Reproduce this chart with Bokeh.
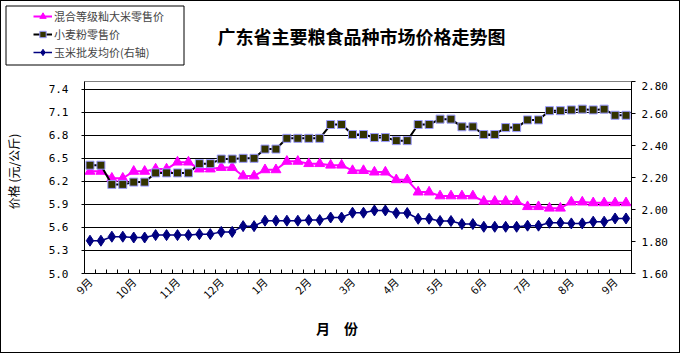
from math import pi
from bokeh.plotting import figure
from bokeh.layouts import column
from bokeh.models import (Range1d, LinearAxis, FixedTicker, PrintfTickFormatter,
                          Legend, LegendItem, Label, BoxAnnotation, ColumnDataSource)
from bokeh.embed import file_html
from bokeh.resources import INLINE

title_text = "广东省主要粮食品种市场价格走势图"
series_names = ["混合等级籼大米零售价", "小麦粉零售价", "玉米批发均价(右轴)"]
month_labels = ["9月", "10月", "11月", "12月", "1月", "2月", "3月", "4月",
                "5月", "6月", "7月", "8月", "9月"]
points_per_month = 4
left_ticks = [5.0, 5.3, 5.6, 5.9, 6.2, 6.5, 6.8, 7.1, 7.4]
right_ticks = [1.6, 1.8, 2.0, 2.2, 2.4, 2.6, 2.8]
y_title = "价格 (元/公斤)"
x_title = "月\u3000份"

rice = [6.33, 6.33, 6.24, 6.24, 6.33, 6.33, 6.36, 6.36, 6.45, 6.45,
        6.36, 6.36, 6.38, 6.38, 6.27, 6.27, 6.35, 6.35, 6.46, 6.46,
        6.43, 6.43, 6.41, 6.41, 6.34, 6.34, 6.32, 6.32, 6.22, 6.22,
        6.06, 6.06, 6.01, 6.01, 6.01, 6.01, 5.94, 5.94, 5.94, 5.94,
        5.87, 5.87, 5.85, 5.85, 5.93, 5.93, 5.92, 5.92, 5.92, 5.92]
wheat = [6.41, 6.41, 6.16, 6.16, 6.19, 6.19, 6.31, 6.31, 6.31, 6.31,
         6.43, 6.43, 6.49, 6.49, 6.50, 6.50, 6.62, 6.62, 6.76, 6.76,
         6.76, 6.76, 6.94, 6.94, 6.81, 6.81, 6.77, 6.77, 6.73, 6.73,
         6.94, 6.94, 7.01, 7.01, 6.91, 6.91, 6.81, 6.81, 6.90, 6.90,
         7.00, 7.00, 7.12, 7.12, 7.13, 7.14, 7.13, 7.14, 7.06, 7.06]
corn = [1.805, 1.805, 1.83, 1.83, 1.825, 1.825, 1.84, 1.84, 1.84, 1.84,
        1.846, 1.846, 1.86, 1.86, 1.896, 1.896, 1.93, 1.93, 1.93, 1.93,
        1.934, 1.934, 1.95, 1.95, 1.98, 1.98, 1.994, 1.994, 1.978, 1.978,
        1.942, 1.942, 1.928, 1.928, 1.909, 1.909, 1.892, 1.892, 1.892, 1.892,
        1.899, 1.899, 1.917, 1.917, 1.913, 1.913, 1.924, 1.924, 1.944, 1.944]

n = len(rice)
idx = list(range(n))
src = ColumnDataSource(dict(x=idx, rice=rice, wheat=wheat, corn=corn))

FONT = "Noto Sans CJK SC"
NUMFONT = "DejaVu Sans Mono"

RICE_C, WHEAT_C, WHEAT_M, WHEAT_E, CORN_C = "#FF00FF", "black", "#333300", "#9999FF", "#000080"

# ---------------- header (title + legend) ----------------
W, H_TOP, H_MAIN = 678, 80, 271
top = figure(width=W, height=H_TOP, output_backend="svg", toolbar_location=None,
             x_range=Range1d(0, W), y_range=Range1d(H_TOP, 0),
             x_axis_type=None, y_axis_type=None, min_border=0, title=None,
             outline_line_color=None, background_fill_color="white",
             border_fill_color="white")
top.frame_align = False
top.grid.visible = False

# legend proxies (hidden renderers of the same data, only their legend glyphs show)
lr1 = top.line("x", "rice", source=src, line_color=RICE_C, line_width=2, visible=False)
lm1 = top.scatter("x", "rice", source=src, marker="triangle", size=10,
                  fill_color=RICE_C, line_color=RICE_C, visible=False)
lr2 = top.line("x", "wheat", source=src, line_color=WHEAT_C, line_width=2, visible=False)
lm2 = top.scatter("x", "wheat", source=src, marker="square", size=8,
                  fill_color=WHEAT_M, line_color=WHEAT_E, visible=False)
lr3 = top.line("x", "corn", source=src, line_color=CORN_C, line_width=1.5, visible=False)
lm3 = top.scatter("x", "corn", source=src, marker="diamond", size=11,
                  fill_color=CORN_C, line_color=CORN_C, visible=False)
legend = Legend(items=[LegendItem(label=series_names[0], renderers=[lr1, lm1]),
                       LegendItem(label=series_names[1], renderers=[lr2, lm2]),
                       LegendItem(label=series_names[2], renderers=[lr3, lm3])],
                location=(29, 18), padding=3, spacing=2, margin=0,
                glyph_width=19, glyph_height=16, label_height=16, label_standoff=2,
                label_text_font=FONT, label_text_font_size="11px",
                border_line_alpha=0, background_fill_alpha=0,
                inactive_fill_alpha=0)
top.add_layout(legend)
top.add_layout(BoxAnnotation(left=4.5, right=182.5, top=4.5, bottom=63.5,
                             fill_alpha=0, line_color="black", line_width=1,
                             line_alpha=1))
top.add_layout(Label(x=360, y=34, text=title_text, text_align="center",
                     text_baseline="middle", text_font=FONT, text_font_size="18px",
                     text_font_style="bold", text_color="black"))

# ---------------- main chart ----------------
p = figure(width=W, height=H_MAIN, output_backend="svg", toolbar_location=None,
           x_range=Range1d(-0.5, n - 0.5), y_range=Range1d(5.0, 7.5),
           min_border_left=82, min_border_right=48, min_border_top=0,
           min_border_bottom=79, background_fill_color="white",
           border_fill_color="white", title=None)
p.frame_align = False
p.outline_line_color = "#808080"
p.outline_line_width = 1
p.extra_y_ranges = {"right": Range1d(1.6, 2.8)}

xa = p.xaxis[0]
xa.ticker = FixedTicker(ticks=[i * points_per_month for i in range(len(month_labels))],
                        minor_ticks=[i + 0.5 for i in range(n - 1)])
xa.major_label_overrides = {i * points_per_month: m for i, m in enumerate(month_labels)}
xa.major_label_orientation = pi / 4
xa.major_tick_in = 0
xa.major_tick_out = 0
xa.minor_tick_in = 4
xa.minor_tick_out = 0
xa.minor_tick_line_color = "black"
xa.axis_line_color = "black"
xa.major_label_standoff = 6
xa.major_label_text_font = FONT
xa.major_label_text_font_size = "11px"
xa.major_label_text_color = "black"
xa.axis_label = x_title + "\u3000\u3000\u3000"
xa.axis_label_standoff = 8
xa.axis_label_text_font = FONT
xa.axis_label_text_font_size = "14px"
xa.axis_label_text_font_style = "bold"
xa.axis_label_text_color = "black"

ya = p.yaxis[0]
ya.ticker = FixedTicker(ticks=left_ticks)
ya.formatter = PrintfTickFormatter(format="%.1f")
ya.major_tick_in = 0
ya.major_tick_out = 3
ya.minor_tick_line_color = None
ya.axis_line_color = "black"
ya.major_label_standoff = 13
ya.major_label_text_font = NUMFONT
ya.major_label_text_font_size = "11px"
ya.major_label_text_color = "black"
ya.axis_label = "\u3000" + y_title
ya.axis_label_standoff = 24
ya.axis_label_text_font = FONT
ya.axis_label_text_font_size = "12px"
ya.axis_label_text_font_style = "normal"
ya.axis_label_text_color = "black"

ra = LinearAxis(y_range_name="right", ticker=FixedTicker(ticks=right_ticks),
                formatter=PrintfTickFormatter(format="%.2f"))
ra.major_tick_in = 0
ra.major_tick_out = 4
ra.minor_tick_line_color = None
ra.axis_line_color = "black"
ra.major_label_standoff = 6
ra.major_label_text_font = NUMFONT
ra.major_label_text_font_size = "11px"
ra.major_label_text_color = "black"
p.add_layout(ra, "right")

p.xgrid.visible = False
p.ygrid.ticker = FixedTicker(ticks=left_ticks)
p.ygrid.grid_line_color = "black"
p.ygrid.grid_line_width = 1

p.line("x", "rice", source=src, line_color=RICE_C, line_width=2)
p.scatter("x", "rice", source=src, marker="triangle", size=10,
          fill_color=RICE_C, line_color=RICE_C)
p.line("x", "wheat", source=src, line_color=WHEAT_C, line_width=2)
p.scatter("x", "wheat", source=src, marker="square", size=8,
          fill_color=WHEAT_M, line_color=WHEAT_E, line_width=1)
p.line("x", "corn", source=src, y_range_name="right", line_color=CORN_C, line_width=1.5)
p.scatter("x", "corn", source=src, y_range_name="right", marker="diamond",
          size=11, fill_color=CORN_C, line_color=CORN_C)

layout = column(top, p, spacing=0, styles={"border": "1px solid black"})
open("out.html", "w").write(file_html(layout, INLINE))
